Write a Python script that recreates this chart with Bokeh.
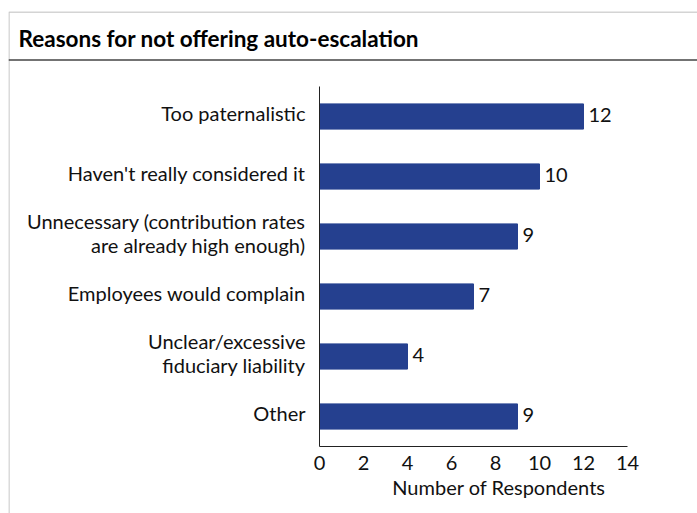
from bokeh.plotting import figure
from bokeh.models import Range1d, BoxAnnotation, Label, ColumnDataSource, FixedTicker, LinearAxis, Span
from bokeh.embed import file_html
from bokeh.resources import INLINE
from bokeh.core.properties import value

categories = [
    "Too paternalistic",
    "Haven't really considered it",
    "Unnecessary (contribution rates\nare already high enough)",
    "Employees would complain",
    "Unclear/excessive\nfiduciary liability",
    "Other",
]
counts = [12, 10, 9, 7, 4, 9]
x_ticks = [0, 2, 4, 6, 8, 10, 12, 14]
title_text = "Reasons for not offering auto-escalation"
x_label = "Number of Respondents"

FONT = "Lato"
BAR = "#25408F"
TXT = "#111111"
LINE = "#444444"

# category slots: top category highest on the y scale
ncat = len(categories)
ypos = [ncat - 0.5 - i for i in range(ncat)]
src = ColumnDataSource(dict(y=ypos, n=counts, lab=[str(c) for c in counts]))

# frame covers the bordered box; 22 px per x unit, 60 px per category
W, H = 697, 513
left_b, top_b = 8, 11
fw, fh = W - left_b, H - top_b
x0_px, y0_px = 319, 446   # pixel location of data origin (canvas)
xs = 22.0
ys = 60.0

p = figure(
    width=W, height=H,
    x_range=Range1d(-(x0_px - left_b) / xs, (W - x0_px) / xs),
    y_range=Range1d(-(H - y0_px) / ys, (y0_px - top_b) / ys),
    output_backend="svg", toolbar_location=None,
    x_axis_type=None, y_axis_type=None,
    min_border_left=left_b, min_border_right=0, min_border_top=top_b, min_border_bottom=0,
    frame_width=fw, frame_height=fh,
)
p.hbar(y="y", right="n", left=0, height=0.42, source=src, color=BAR)
p.text(x="n", y="y", text="lab", source=src, x_offset=5, y_offset=-2, text_baseline="middle",
       text_align="left", text_font=value(FONT), text_font_size="20px", text_color=TXT)

p.grid.visible = False
p.outline_line_color = None
p.background_fill_color = "white"
p.border_fill_color = "white"

# category labels sit a touch above the bar centres, as in the reference
label_pos = [round(y + 0.06, 2) for y in ypos]
xaxis = LinearAxis(fixed_location=0, bounds=(0, 14), ticker=FixedTicker(ticks=x_ticks))
yaxis = LinearAxis(fixed_location=0, bounds=(0, ncat), ticker=FixedTicker(ticks=label_pos),
                   major_label_overrides={y: c for y, c in zip(label_pos, categories)})
for ax in (xaxis, yaxis):
    ax.major_tick_line_color = None
    ax.minor_tick_line_color = None
    ax.axis_line_color = "#222"
    ax.major_label_text_font = FONT
    ax.major_label_text_font_size = "20px"
    ax.major_label_text_color = TXT
xaxis.major_label_standoff = 3
yaxis.major_label_standoff = 8
yaxis.major_label_text_line_height = 1.0
p.add_layout(xaxis, "below")
p.add_layout(yaxis, "left")

p.add_layout(Label(x=(498.5 - x0_px) / xs, y=-(486 - y0_px) / ys, text=x_label,
                   text_align="center", text_baseline="middle",
                   text_font=FONT, text_font_size="20px", text_color=TXT))

# outer box and title band (screen units: relative to frame, y from bottom)
p.add_layout(BoxAnnotation(left=0.5, right=fw + 50, top=fh - 0.5, bottom=-50,
                           left_units="screen", right_units="screen",
                           top_units="screen", bottom_units="screen",
                           fill_color=None, line_color=LINE, line_width=1.3))
p.add_layout(Span(location=H - 59.5, location_units="screen", dimension="width",
                  line_color=LINE, line_width=1.3))
p.add_layout(Label(x=18 - left_b, y=H - 37.5, x_units="screen", y_units="screen",
                   text=title_text, text_font=FONT, text_font_style="bold",
                   text_font_size="22.5px", text_baseline="middle", text_color="#000"))

open("out.html", "w").write(file_html(p, INLINE))
